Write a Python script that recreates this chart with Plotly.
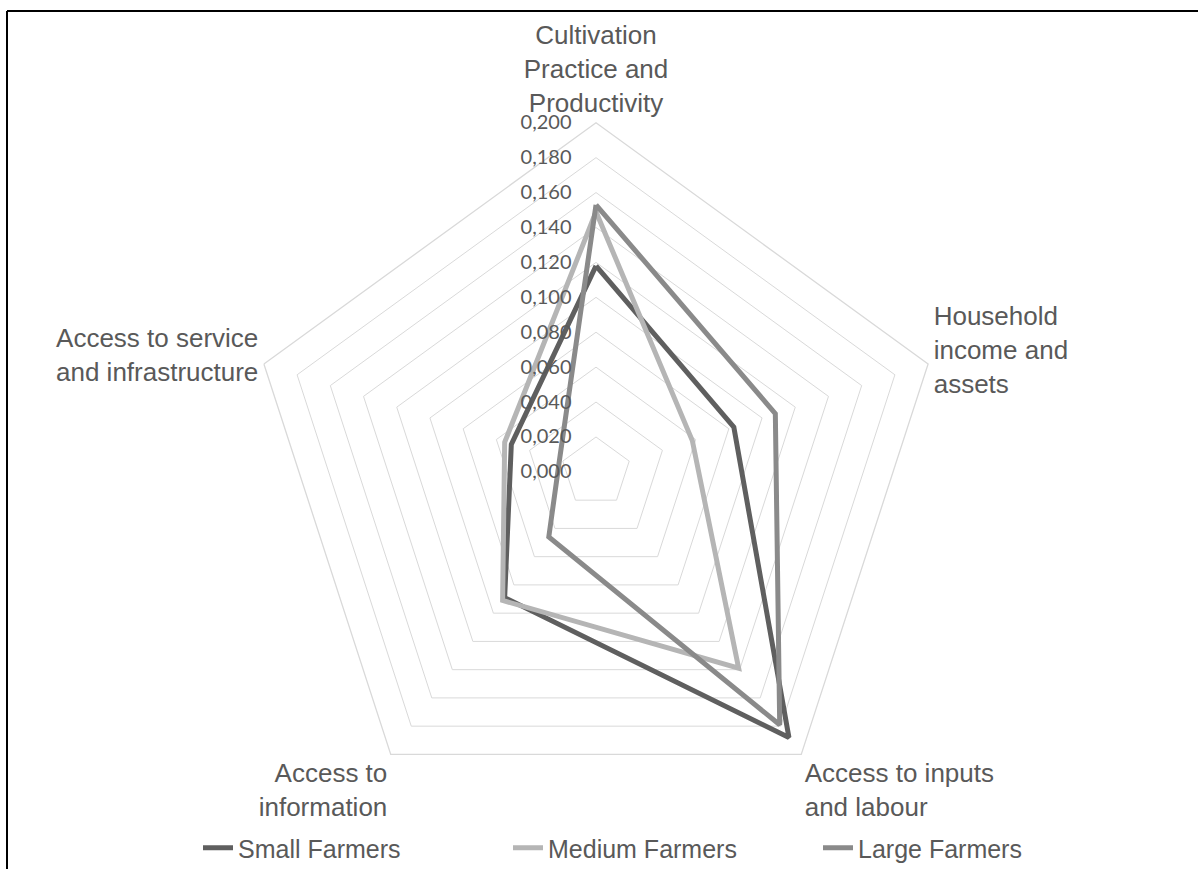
import plotly.graph_objects as go

categories = [
    "Cultivation<br>Practice and<br>Productivity",
    "Household<br>income and<br>assets",
    "Access to inputs<br>and labour",
    "Access to<br>information",
    "Access to service<br>and infrastructure",
]
small_farmers = [0.118, 0.083, 0.188, 0.089, 0.051]
medium_farmers = [0.149, 0.058, 0.139, 0.091, 0.055]
large_farmers = [0.153, 0.108, 0.179, 0.046, 0.022]
tick_values = [0.0, 0.02, 0.04, 0.06, 0.08, 0.10, 0.12, 0.14, 0.16, 0.18, 0.20]

series = [
    ("Small Farmers", small_farmers, "#5f5f5f"),
    ("Medium Farmers", medium_farmers, "#b5b5b5"),
    ("Large Farmers", large_farmers, "#8a8a8a"),
]

fig = go.Figure()
for name, vals, color in series:
    fig.add_trace(go.Scatterpolar(
        r=vals + vals[:1],
        theta=categories + categories[:1],
        mode="lines",
        name=name,
        line=dict(color=color, width=5),
    ))

W, H = 1198, 871
cx, cy, R = 596, 473, 350
fig.update_layout(
    width=W, height=H,
    margin=dict(l=0, r=0, t=0, b=0),
    paper_bgcolor="white",
    separators=",.",
    polar=dict(
        domain=dict(x=[(cx - R) / W, (cx + R) / W], y=[1 - (cy + R) / H, 1 - (cy - R) / H]),
        gridshape="linear",
        bgcolor="white",
        radialaxis=dict(
            range=[0, 0.2],
            tickvals=tick_values,
            tickformat=".3f",
            angle=90,
            tickangle=90,
            side="counterclockwise",
            showline=False,
            ticks="outside",
            ticklen=17,
            tickcolor="rgba(0,0,0,0)",
            gridcolor="#d9d9d9",
            gridwidth=1.3,
            tickfont=dict(family="Lato, Open Sans, sans-serif", size=20, color="#595959"),
        ),
        angularaxis=dict(
            rotation=90,
            direction="clockwise",
            showgrid=False,
            showline=True,
            linecolor="#d9d9d9",
            linewidth=1.3,
            ticks="",
            tickfont=dict(family="Liberation Sans, Arial, sans-serif", size=26, color="#595959"),
        ),
    ),
    showlegend=True,
    legend=dict(
        orientation="h",
        x=198 / W, xanchor="left",
        y=1 - 850 / H, yanchor="middle",
        font=dict(family="Liberation Sans, Arial, sans-serif", size=25, color="#595959"),
        entrywidth=265,
        itemwidth=30,
    ),
    shapes=[
        dict(type="line", xref="paper", yref="paper", x0=7 / W, x1=1, y0=1 - 11 / H, y1=1 - 11 / H,
             line=dict(color="black", width=2)),
        dict(type="line", xref="paper", yref="paper", x0=7 / W, x1=7 / W, y0=0, y1=1 - 11 / H,
             line=dict(color="black", width=2)),
    ],
)

fig.write_html("out.html", config={"displayModeBar": False},
               post_script="document.body.style.margin='0';")
